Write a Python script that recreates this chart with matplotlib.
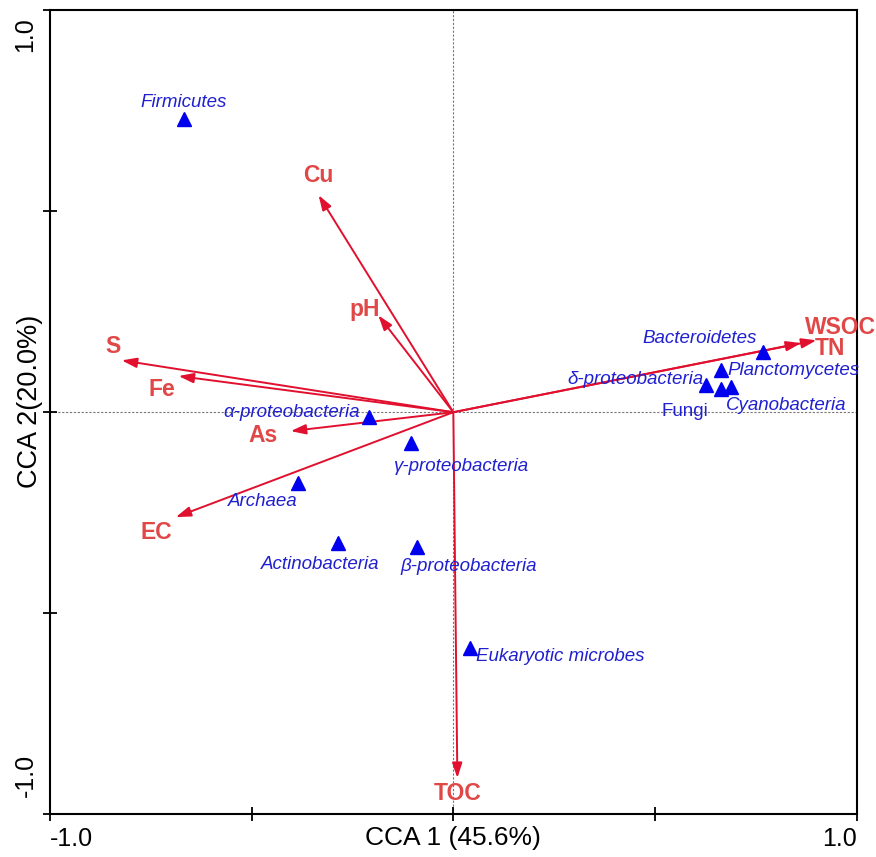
import matplotlib
matplotlib.use("Agg")
import matplotlib.pyplot as plt
import matplotlib.transforms as mtransforms

plt.rcParams['font.family'] = ['Liberation Sans', 'DejaVu Sans']

# Environmental variables (biplot arrows): CCA1, CCA2 scores
env_names = ["Cu", "pH", "S", "Fe", "As", "EC", "TOC", "WSOC", "TN"]
env_x = [-0.334, -0.186, -0.822, -0.681, -0.403, -0.688, 0.010, 0.900, 0.862]
env_y = [0.540, 0.241, 0.129, 0.090, -0.047, -0.261, -0.910, 0.179, 0.172]

# Microbial groups: CCA1, CCA2 scores
taxa = ["Firmicutes", "Bacteroidetes", "Planctomycetes", "δ-proteobacteria", "Fungi",
        "Cyanobacteria", "α-proteobacteria", "γ-proteobacteria", "Archaea",
        "Actinobacteria", "β-proteobacteria", "Eukaryotic microbes"]
taxa_x = [-0.668, 0.767, 0.663, 0.626, 0.663, 0.688, -0.210, -0.106, -0.386,
          -0.285, -0.089, 0.042]
taxa_y = [0.729, 0.149, 0.104, 0.067, 0.057, 0.062, -0.012, -0.077, -0.177,
          -0.326, -0.336, -0.587]

# label offsets in points (dx, dy) and alignment
env_lab = {
    "Cu": (0, 14, "center"), "pH": (-10, 4, "center"), "S": (-6, 10, "center"),
    "Fe": (-12, -10, "center"), "As": (-20, -3, "center"), "EC": (-14, -11, "center"),
    "TOC": (0, -11, "center"), "WSOC": (17, 9, "center"), "TN": (21, -4, "center"),
}
taxa_lab = {
    "Firmicutes": (0, 12, "center", "italic"),
    "Bacteroidetes": (-4, 10, "right", "italic"),
    "Planctomycetes": (5, 0, "left", "italic"),
    "δ-proteobacteria": (-2, 4, "right", "italic"),
    "Fungi": (-26, -16, "center", "normal"),
    "Cyanobacteria": (40, -13, "center", "italic"),
    "α-proteobacteria": (-6, 3, "right", "italic"),
    "γ-proteobacteria": (37, -17, "center", "italic"),
    "Archaea": (-25, -13, "center", "italic"),
    "Actinobacteria": (-13, -15, "center", "italic"),
    "β-proteobacteria": (37, -14, "center", "italic"),
    "Eukaryotic microbes": (4, -6, "left", "italic"),
}

arrow_color = "#e0102e"
env_text_color = "#e04848"
taxa_color = "#0000ee"
taxa_text_color = "#2020d0"

fig = plt.figure(figsize=(8.76, 8.57), dpi=100)
ax = fig.add_axes([0.057, 0.050, 0.921, 0.938])
ax.set_xlim(-1, 1)
ax.set_ylim(-1, 1)

ax.axhline(0, color="#777777", lw=0.8, ls=(0, (2, 1.5)), zorder=1)
ax.axvline(0, color="#777777", lw=0.8, ls=(0, (2, 1.5)), zorder=1)

for name, x, y in zip(env_names, env_x, env_y):
    ax.annotate("", xy=(x, y), xytext=(0, 0),
                arrowprops=dict(arrowstyle="-|>,head_length=0.9,head_width=0.3",
                                color=arrow_color, lw=1.4, shrinkA=0, shrinkB=0),
                zorder=3)
    dx, dy, ha = env_lab[name]
    ax.annotate(name, xy=(x, y), xytext=(dx, dy), textcoords="offset points",
                ha=ha, va="center", fontsize=16.5, fontweight="bold",
                color=env_text_color, zorder=4, annotation_clip=False)

ax.plot(taxa_x, taxa_y, linestyle="none", marker="^", ms=10,
        color=taxa_color, zorder=5)
for name, x, y in zip(taxa, taxa_x, taxa_y):
    dx, dy, ha, st = taxa_lab[name]
    ax.annotate(name, xy=(x, y), xytext=(dx, dy), textcoords="offset points",
                ha=ha, va="center", fontsize=13.5, style=st,
                color=taxa_text_color, zorder=6)

ticks = [-1.0, -0.5, 0.0, 0.5, 1.0]
tick_labels = ["-1.0", "", "", "", "1.0"]
ax.set_xticks(ticks)
ax.set_xticklabels(tick_labels)
ax.set_yticks(ticks)
ax.set_yticklabels(tick_labels, rotation=90)
ax.tick_params(direction="inout", length=10, width=1.3, labelsize=18, pad=4)

xl = ax.get_xticklabels()
xl[0].set_ha("left")
xl[-1].set_ha("right")
yl = ax.get_yticklabels()
for lab in yl:
    lab.set_va("center")
yl[0].set_va("bottom")
yl[0].set_transform(yl[0].get_transform() +
                    mtransforms.ScaledTranslation(0, 12 / 72, fig.dpi_scale_trans))
yl[-1].set_va("top")
yl[-1].set_transform(yl[-1].get_transform() +
                     mtransforms.ScaledTranslation(0, -5 / 72, fig.dpi_scale_trans))

for sp in ax.spines.values():
    sp.set_linewidth(1.5)

ax.set_xlabel("CCA 1 (45.6%)", fontsize=19)
ax.xaxis.set_label_coords(0.5, -0.015)
ax.set_ylabel("CCA 2(20.0%)", fontsize=19.5)
ax.yaxis.set_label_coords(-0.008, 0.513)

fig.savefig("out.png", dpi=100)
